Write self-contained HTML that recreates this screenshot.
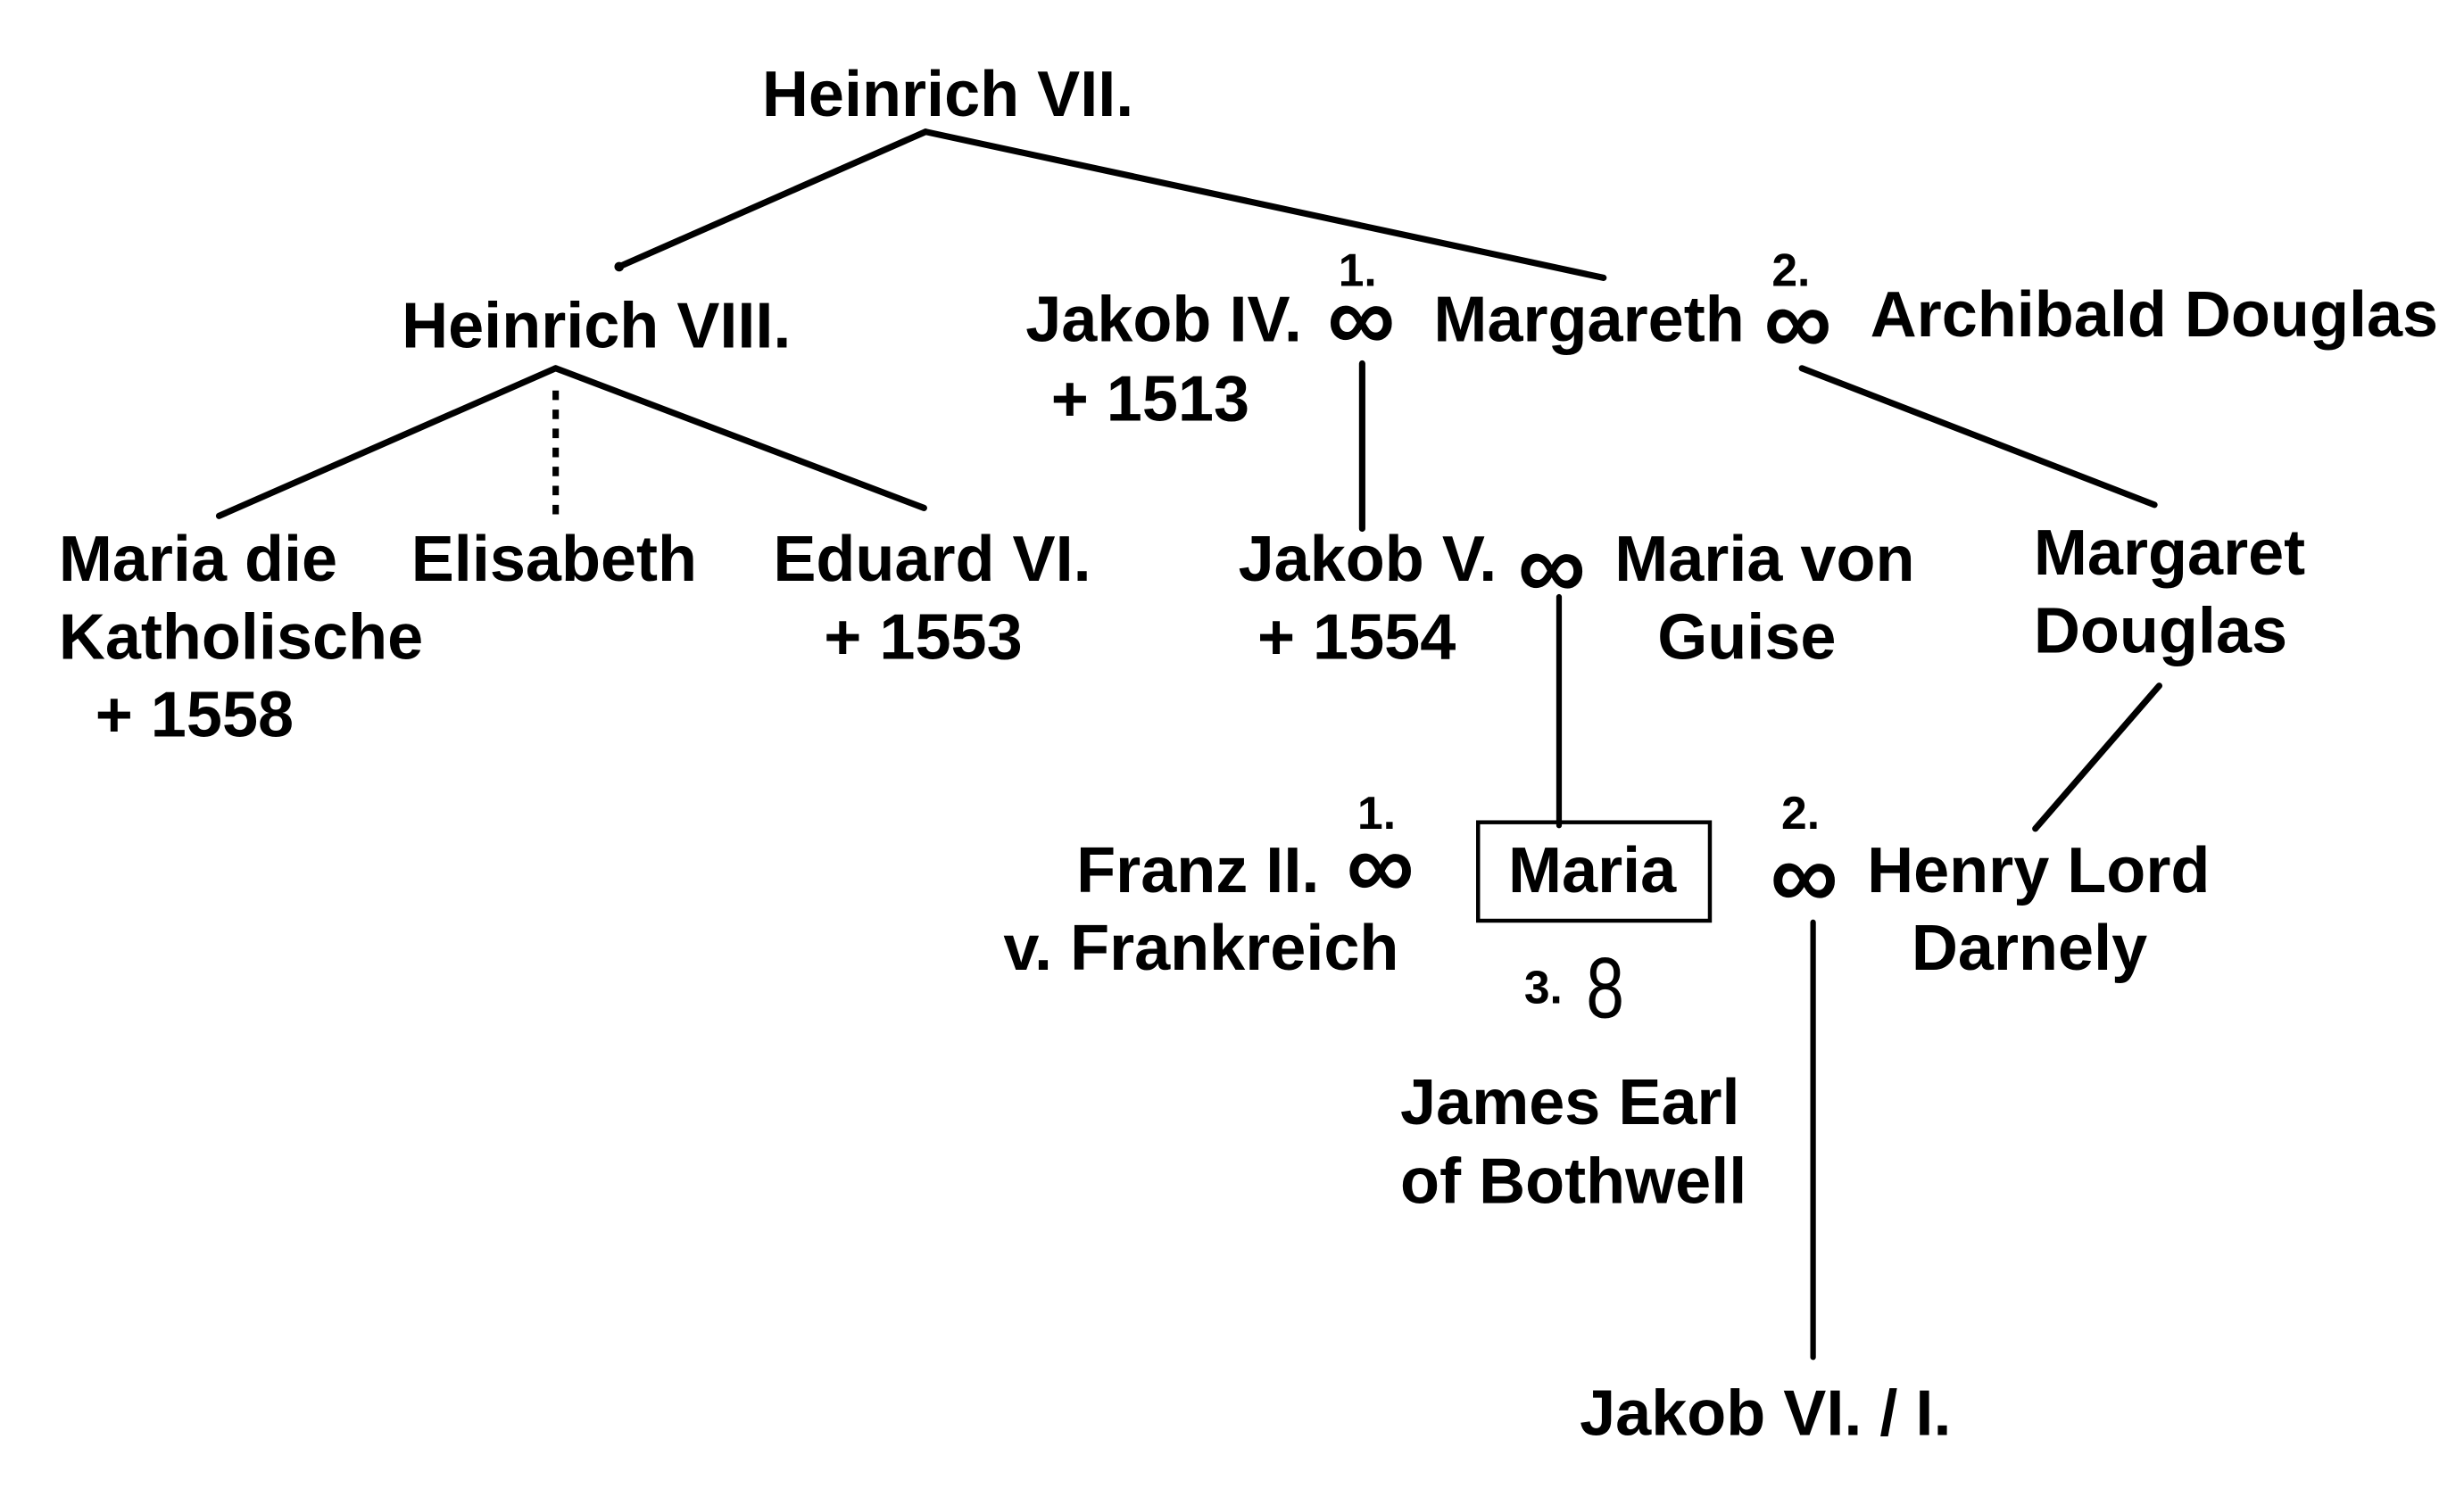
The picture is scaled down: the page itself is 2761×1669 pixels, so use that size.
<!DOCTYPE html>
<html><head><meta charset="utf-8"><style>
html,body{margin:0;padding:0;background:#fff;}
svg{display:block;}
text{font-family:"Liberation Sans",Arial,sans-serif;fill:#000;}
.t{font-size:40.5px;font-weight:bold;}
.s{font-size:29px;font-weight:bold;}
.i{font-size:60px;font-weight:bold;}
</style></head><body>
<svg width="2761" height="1669" viewBox="0 0 1552 938" preserveAspectRatio="none" xmlns="http://www.w3.org/2000/svg">
<g stroke="#000" stroke-width="4" stroke-linecap="round" fill="none">
<line x1="583" y1="83" x2="390" y2="168"/>
<line x1="583" y1="83" x2="1010" y2="175"/>
<line x1="350" y1="232" x2="138" y2="325"/>
<line x1="350" y1="232" x2="582" y2="320"/>
<line x1="350" y1="246" x2="350" y2="327" stroke-dasharray="6,6" stroke-linecap="butt"/>
<line x1="858" y1="229" x2="858" y2="333"/>
<line x1="1135" y1="232" x2="1357" y2="318"/>
<line x1="1360" y1="432" x2="1282" y2="522"/>
<line x1="982" y1="376" x2="982" y2="520" stroke-width="3.5"/>
<line x1="1142" y1="581" x2="1142" y2="855" stroke-width="3.5"/>
<rect x="931" y="518" width="146" height="62" stroke-width="2.5"/>
</g>
<circle cx="390" cy="168" r="3" fill="#000"/>
<text class="t" x="480" y="73">Heinrich VII.</text>
<text class="t" x="253" y="219">Heinrich VIII.</text>
<text class="t" x="37" y="366">Maria die</text>
<text class="t" x="37" y="415">Katholische</text>
<text class="t" x="60" y="464">+ 1558</text>
<text class="t" x="259" y="366">Elisabeth</text>
<text class="t" x="487" y="366">Eduard VI.</text>
<text class="t" x="519" y="415">+ 1553</text>
<text class="t" x="646" y="215">Jakob IV.</text>
<text class="t" x="662" y="265">+ 1513</text>
<text class="s" x="843" y="180">1.</text>
<text class="i" x="836" y="221">∞</text>
<text class="t" x="903" y="215">Margareth</text>
<text class="s" x="1116" y="180">2.</text>
<text class="i" x="1111" y="223">∞</text>
<text class="t" x="1178" y="212">Archibald Douglas</text>
<text class="t" x="780" y="366">Jakob V.</text>
<text class="i" x="956" y="377">∞</text>
<text class="t" x="1017" y="366">Maria von</text>
<text class="t" x="792" y="415">+ 1554</text>
<text class="t" x="1044" y="415">Guise</text>
<text class="t" x="1281" y="362">Margaret</text>
<text class="t" x="1281" y="411">Douglas</text>
<text class="s" x="855" y="522">1.</text>
<text class="i" x="848" y="566">∞</text>
<text class="t" x="678" y="562">Franz II.</text>
<text class="t" x="632" y="611">v. Frankreich</text>
<text class="t" x="950" y="562">Maria</text>
<text class="s" x="1122" y="522">2.</text>
<text class="i" x="1115" y="572">∞</text>
<text class="t" x="1176" y="562">Henry Lord</text>
<text class="t" x="1204" y="611">Darnely</text>
<text class="s" x="960" y="632">3.</text>
<text x="999" y="641" style="font-size:54px" transform="translate(999 641) scale(0.8 1) translate(-999 -641)">8</text>
<text class="t" x="882" y="708">James Earl</text>
<text class="t" x="882" y="758">of Bothwell</text>
<text class="t" x="995" y="904">Jakob VI. / I.</text>
</svg>
</body></html>
